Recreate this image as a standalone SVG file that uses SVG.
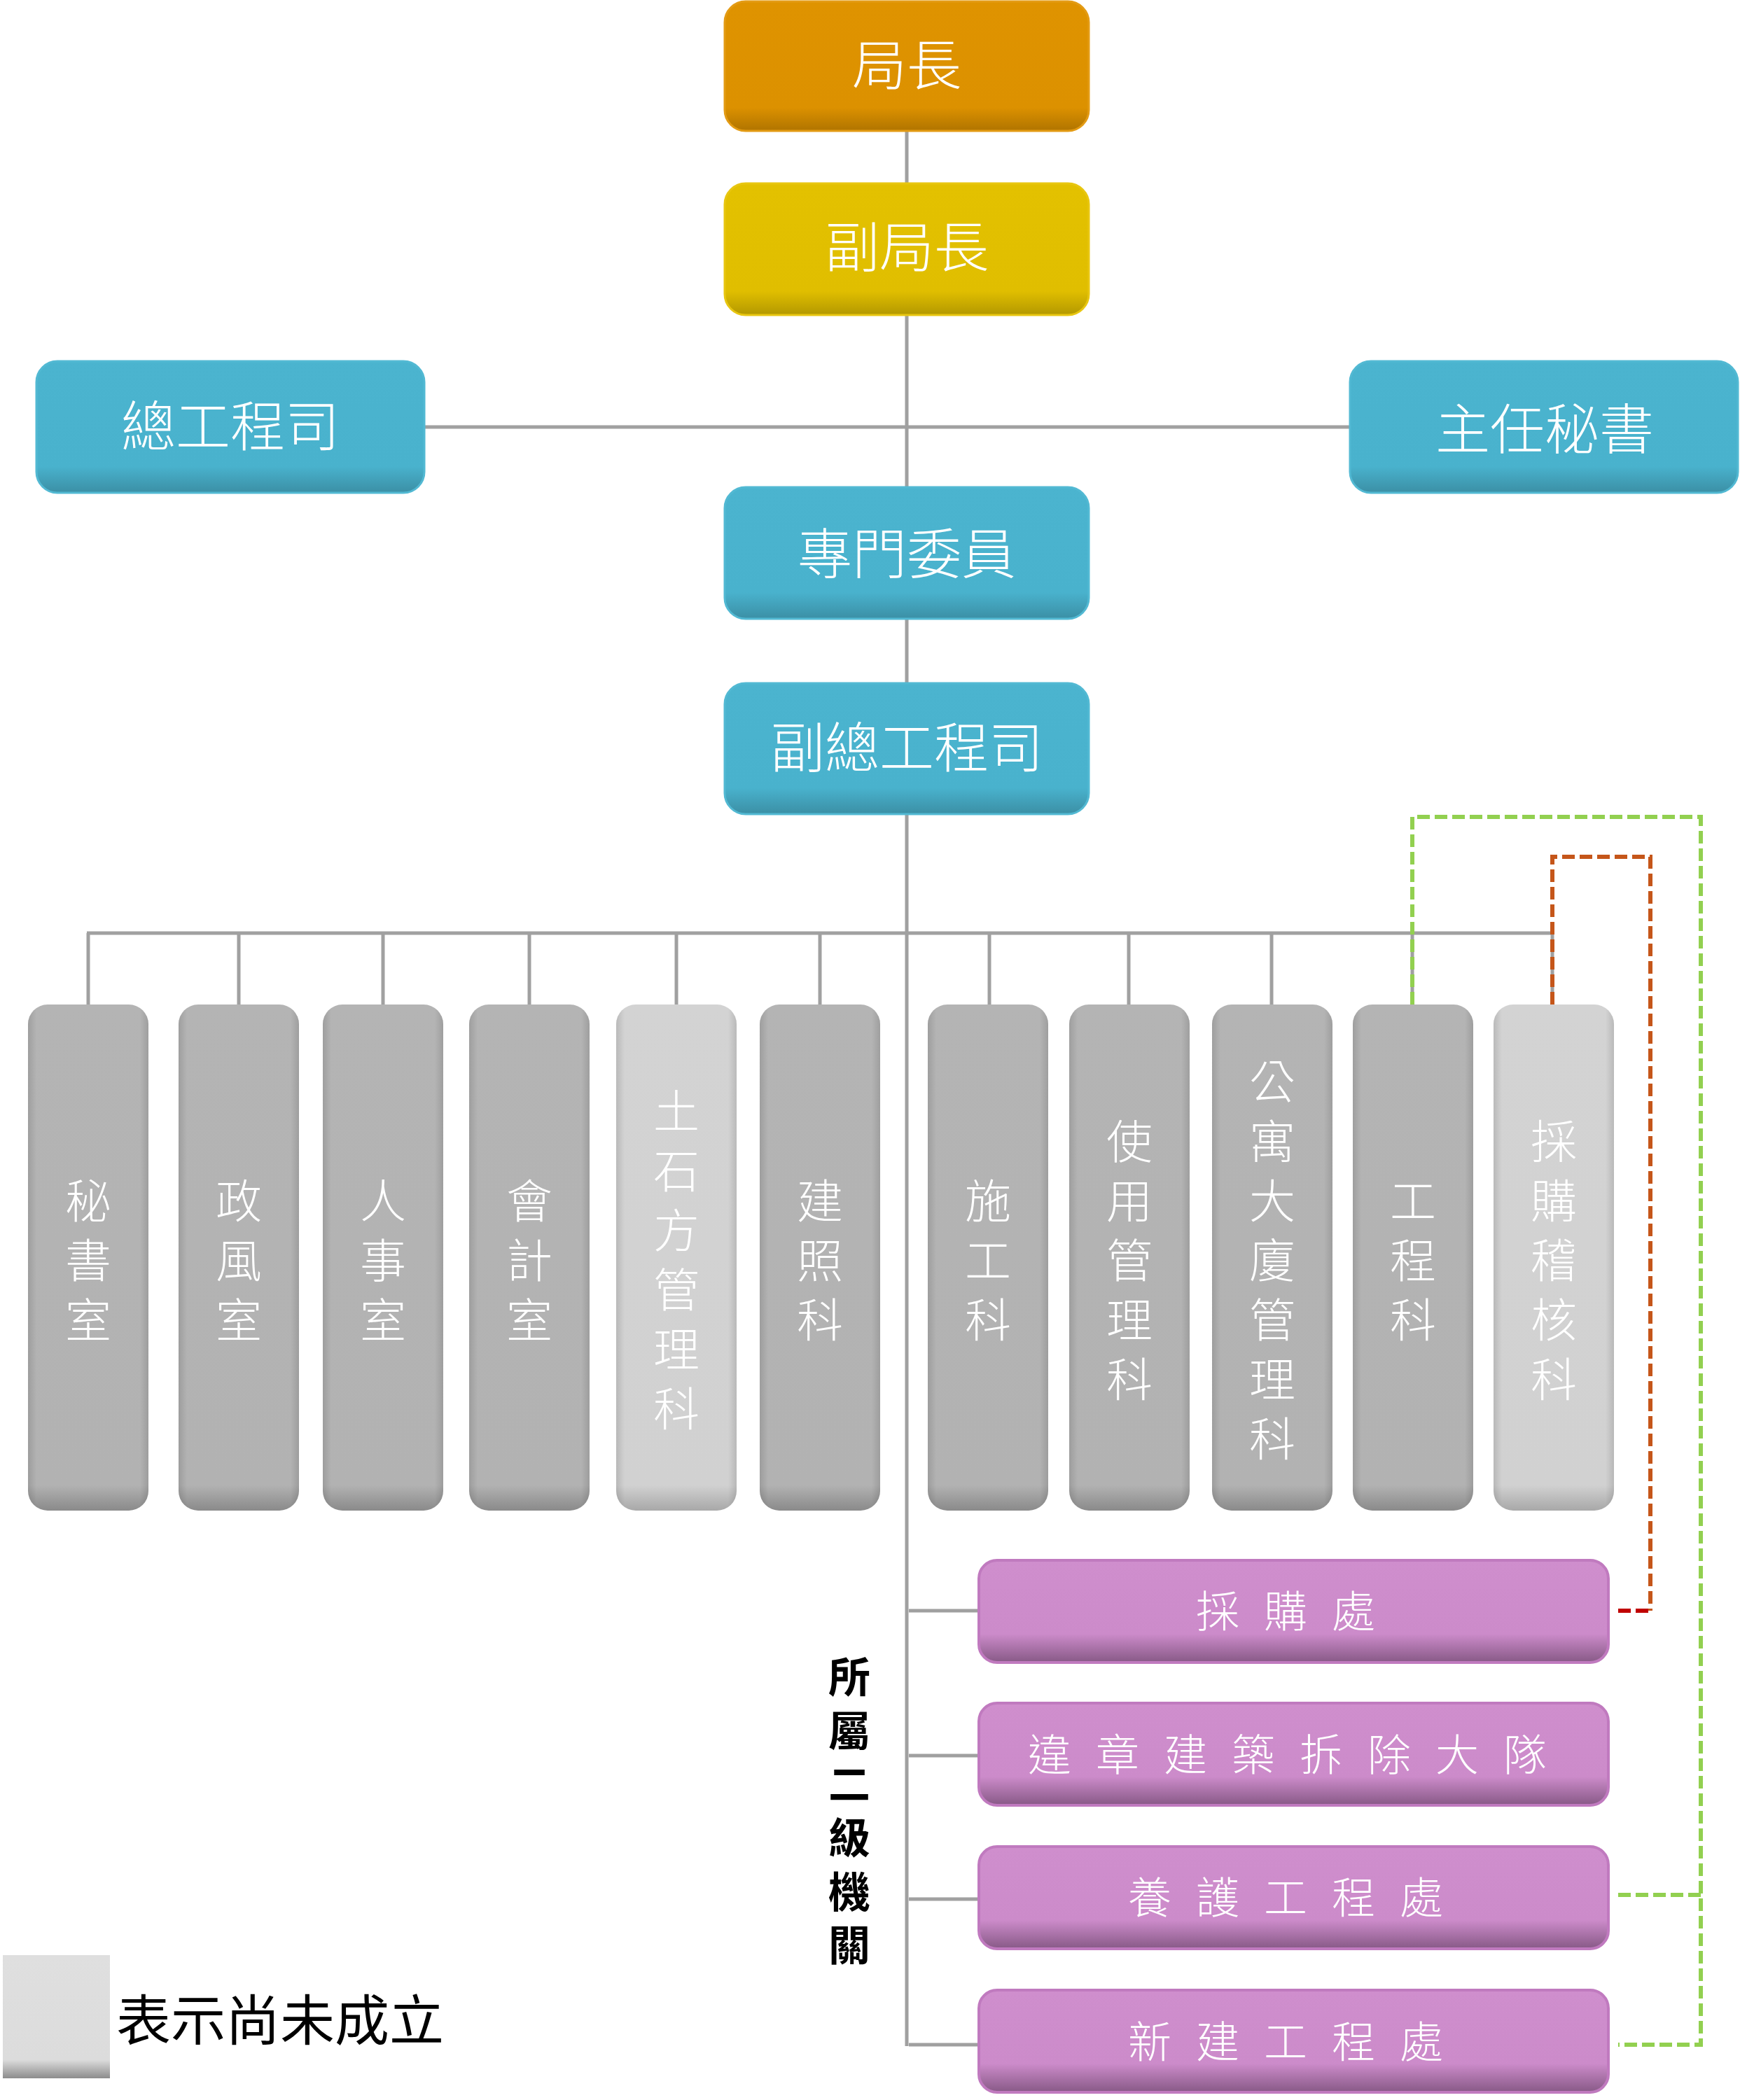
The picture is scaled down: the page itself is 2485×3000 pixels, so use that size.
<svg xmlns="http://www.w3.org/2000/svg" width="2485" height="3000" viewBox="0 0 2485 3000">
<defs>
<linearGradient id="gOrange" x1="0" y1="0" x2="0" y2="1"><stop offset="0" stop-color="#DF9300"/><stop offset="0.82" stop-color="#DC9100"/><stop offset="1" stop-color="#B07400"/></linearGradient>
<linearGradient id="gYellow" x1="0" y1="0" x2="0" y2="1"><stop offset="0" stop-color="#E3C100"/><stop offset="0.82" stop-color="#E0BE00"/><stop offset="1" stop-color="#B39800"/></linearGradient>
<linearGradient id="gBlue" x1="0" y1="0" x2="0" y2="1"><stop offset="0" stop-color="#4BB4CF"/><stop offset="0.8" stop-color="#49B2CD"/><stop offset="1" stop-color="#3B8FA5"/></linearGradient>
<linearGradient id="gGray" x1="0" y1="0" x2="0" y2="1"><stop offset="0" stop-color="#B4B4B4"/><stop offset="0.95" stop-color="#B2B2B2"/><stop offset="1" stop-color="#8A8A8A"/></linearGradient>
<linearGradient id="gLight" x1="0" y1="0" x2="0" y2="1"><stop offset="0" stop-color="#D3D3D3"/><stop offset="0.95" stop-color="#D1D1D1"/><stop offset="1" stop-color="#A8A8A8"/></linearGradient>
<linearGradient id="gLegend" x1="0" y1="0" x2="0" y2="1"><stop offset="0" stop-color="#DFDFDF"/><stop offset="0.85" stop-color="#DCDCDC"/><stop offset="1" stop-color="#8C8C8C"/></linearGradient>
<linearGradient id="gPurple" x1="0" y1="0" x2="0" y2="1"><stop offset="0" stop-color="#CF8ECD"/><stop offset="0.72" stop-color="#CC8BCA"/><stop offset="1" stop-color="#875986"/></linearGradient>
<linearGradient id="gSide" x1="0" y1="0" x2="1" y2="0"><stop offset="0" stop-color="#000" stop-opacity="0.12"/><stop offset="0.07" stop-color="#000" stop-opacity="0"/><stop offset="0.93" stop-color="#000" stop-opacity="0"/><stop offset="1" stop-color="#000" stop-opacity="0.12"/></linearGradient>
</defs>
<style>
.t{font-family:"Noto Sans CJK TC","Noto Sans CJK SC",sans-serif;font-weight:300;fill:#fff;text-anchor:middle;dominant-baseline:central;}
.big{font-size:78px;}
.v{font-size:66px;}
.p{font-size:62px;}
.conn{stroke:#A0A0A0;stroke-width:5;fill:none;}
.green{stroke:#92D050;stroke-width:6;fill:none;stroke-dasharray:18 7;}
.orange{stroke:#C5561A;stroke-width:6;fill:none;stroke-dasharray:18 7;}
.red{stroke:#C00000;stroke-width:6;fill:none;stroke-dasharray:18 7;}
.side{fill:url(#gSide);}
</style>
<rect width="2485" height="3000" fill="#fff"/>

<g id="connectors">
<line class="conn" x1="1295" y1="187" x2="1295" y2="2923"/>
<line class="conn" x1="606" y1="610" x2="1928" y2="610"/>
<line class="conn" x1="124" y1="1333" x2="2219" y2="1333"/>
<line class="conn" x1="126" y1="1333" x2="126" y2="1435"/>
<line class="conn" x1="341" y1="1333" x2="341" y2="1435"/>
<line class="conn" x1="547" y1="1333" x2="547" y2="1435"/>
<line class="conn" x1="756" y1="1333" x2="756" y2="1435"/>
<line class="conn" x1="966" y1="1333" x2="966" y2="1435"/>
<line class="conn" x1="1171" y1="1333" x2="1171" y2="1435"/>
<line class="conn" x1="1413" y1="1333" x2="1413" y2="1435"/>
<line class="conn" x1="1612" y1="1333" x2="1612" y2="1435"/>
<line class="conn" x1="1816" y1="1333" x2="1816" y2="1435"/>
<line class="conn" x1="2017" y1="1333" x2="2017" y2="1435"/>
<line class="conn" x1="2217" y1="1333" x2="2217" y2="1435"/>
<line class="conn" x1="1298" y1="2301" x2="1398" y2="2301"/>
<line class="conn" x1="1298" y1="2508" x2="1398" y2="2508"/>
<line class="conn" x1="1298" y1="2713" x2="1398" y2="2713"/>
<line class="conn" x1="1298" y1="2921" x2="1398" y2="2921"/>
<polyline class="green" points="2017,1435 2017,1167 2429,1167 2429,2921 2311,2921"/>
<line class="green" x1="2311" y1="2707" x2="2429" y2="2707"/>
<polyline class="orange" points="2217,1435 2217,1224 2357,1224 2357,2301"/>
<line class="red" x1="2311" y1="2301" x2="2357" y2="2301"/>
</g>

<g id="n-director"><rect x="1035" y="2" width="520" height="185" rx="30" fill="url(#gOrange)" stroke="#E39B14" stroke-width="3"/><text class="t big" x="1295" y="88">局長</text></g>
<g id="n-deputy"><rect x="1035" y="262" width="520" height="188" rx="30" fill="url(#gYellow)" stroke="#E8C610" stroke-width="3"/><text class="t big" x="1295" y="348">副局長</text></g>
<g id="n-chief-engineer"><rect x="52" y="516" width="554" height="188" rx="30" fill="url(#gBlue)" stroke="#52B9D3" stroke-width="3"/><text class="t big" x="329" y="604">總工程司</text></g>
<g id="n-secretary"><rect x="1928" y="516" width="554" height="188" rx="30" fill="url(#gBlue)" stroke="#52B9D3" stroke-width="3"/><text class="t big" x="2206" y="608">主任秘書</text></g>
<g id="n-commissioner"><rect x="1035" y="696" width="520" height="188" rx="30" fill="url(#gBlue)" stroke="#52B9D3" stroke-width="3"/><text class="t big" x="1295" y="786">專門委員</text></g>
<g id="n-deputy-chief-engineer"><rect x="1035" y="976" width="520" height="187" rx="30" fill="url(#gBlue)" stroke="#52B9D3" stroke-width="3"/><text class="t big" x="1295" y="1063">副總工程司</text></g>

<g id="n-mishu"><rect x="40" y="1435" width="172" height="723" rx="28" fill="url(#gGray)"/><rect class="side" x="40" y="1435" width="172" height="723" rx="28"/><text class="t v" x="126 126 126" y="1711 1796 1881">秘書室</text></g>
<g id="n-zhengfeng"><rect x="255" y="1435" width="172" height="723" rx="28" fill="url(#gGray)"/><rect class="side" x="255" y="1435" width="172" height="723" rx="28"/><text class="t v" x="341 341 341" y="1711 1796 1881">政風室</text></g>
<g id="n-renshi"><rect x="461" y="1435" width="172" height="723" rx="28" fill="url(#gGray)"/><rect class="side" x="461" y="1435" width="172" height="723" rx="28"/><text class="t v" x="547 547 547" y="1711 1796 1881">人事室</text></g>
<g id="n-kuaiji"><rect x="670" y="1435" width="172" height="723" rx="28" fill="url(#gGray)"/><rect class="side" x="670" y="1435" width="172" height="723" rx="28"/><text class="t v" x="756 756 756" y="1711 1796 1881">會計室</text></g>
<g id="n-tushifang"><rect x="880" y="1435" width="172" height="723" rx="28" fill="url(#gLight)"/><rect class="side" x="880" y="1435" width="172" height="723" rx="28"/><text class="t v" x="966 966 966 966 966 966" y="1583 1668 1753 1838 1923 2008">土石方管理科</text></g>
<g id="n-jianzhao"><rect x="1085" y="1435" width="172" height="723" rx="28" fill="url(#gGray)"/><rect class="side" x="1085" y="1435" width="172" height="723" rx="28"/><text class="t v" x="1171 1171 1171" y="1711 1796 1881">建照科</text></g>
<g id="n-shigong"><rect x="1325" y="1435" width="172" height="723" rx="28" fill="url(#gGray)"/><rect class="side" x="1325" y="1435" width="172" height="723" rx="28"/><text class="t v" x="1411 1411 1411" y="1711 1796 1881">施工科</text></g>
<g id="n-shiyong"><rect x="1527" y="1435" width="172" height="723" rx="28" fill="url(#gGray)"/><rect class="side" x="1527" y="1435" width="172" height="723" rx="28"/><text class="t v" x="1613 1613 1613 1613 1613" y="1626 1711 1796 1881 1966">使用管理科</text></g>
<g id="n-gongyu"><rect x="1731" y="1435" width="172" height="723" rx="28" fill="url(#gGray)"/><rect class="side" x="1731" y="1435" width="172" height="723" rx="28"/><text class="t v" x="1817 1817 1817 1817 1817 1817 1817" y="1541 1626 1711 1796 1881 1966 2051">公寓大廈管理科</text></g>
<g id="n-gongcheng"><rect x="1932" y="1435" width="172" height="723" rx="28" fill="url(#gGray)"/><rect class="side" x="1932" y="1435" width="172" height="723" rx="28"/><text class="t v" x="2018 2018 2018" y="1711 1796 1881">工程科</text></g>
<g id="n-caigoujihe"><rect x="2133" y="1435" width="172" height="723" rx="28" fill="url(#gLight)"/><rect class="side" x="2133" y="1435" width="172" height="723" rx="28"/><text class="t v" x="2219 2219 2219 2219 2219" y="1626 1711 1796 1881 1966">採購稽核科</text></g>

<g id="n-caigouchu"><rect x="1398" y="2229" width="899" height="146" rx="26" fill="url(#gPurple)" stroke="#C07ABF" stroke-width="4"/><text class="t p" x="1739 1836 1933" y="2298">採購處</text></g>
<g id="n-weizhang"><rect x="1398" y="2433" width="899" height="146" rx="26" fill="url(#gPurple)" stroke="#C07ABF" stroke-width="4"/><text class="t p" x="1499 1596 1693 1790 1887 1984 2081 2178" y="2503">違章建築拆除大隊</text></g>
<g id="n-yanghu"><rect x="1398" y="2638" width="899" height="146" rx="26" fill="url(#gPurple)" stroke="#C07ABF" stroke-width="4"/><text class="t p" x="1642 1739 1836 1933 2030" y="2707">養護工程處</text></g>
<g id="n-xinjian"><rect x="1398" y="2843" width="899" height="146" rx="26" fill="url(#gPurple)" stroke="#C07ABF" stroke-width="4"/><text class="t p" x="1642 1739 1836 1933 2030" y="2913">新建工程處</text></g>

<g id="label-subordinate"><text class="t" style="fill:#000;font-size:60px;font-weight:700" x="1213 1213 1213 1213 1213 1213" y="2391 2468 2544 2621 2698 2774">所屬二級機關</text></g>

<g id="legend"><rect x="4" y="2793" width="153" height="176" fill="url(#gLegend)"/><text class="t" style="fill:#000;font-size:78px;font-weight:400;text-anchor:start" x="166" y="2881">表示尚未成立</text></g>
</svg>
